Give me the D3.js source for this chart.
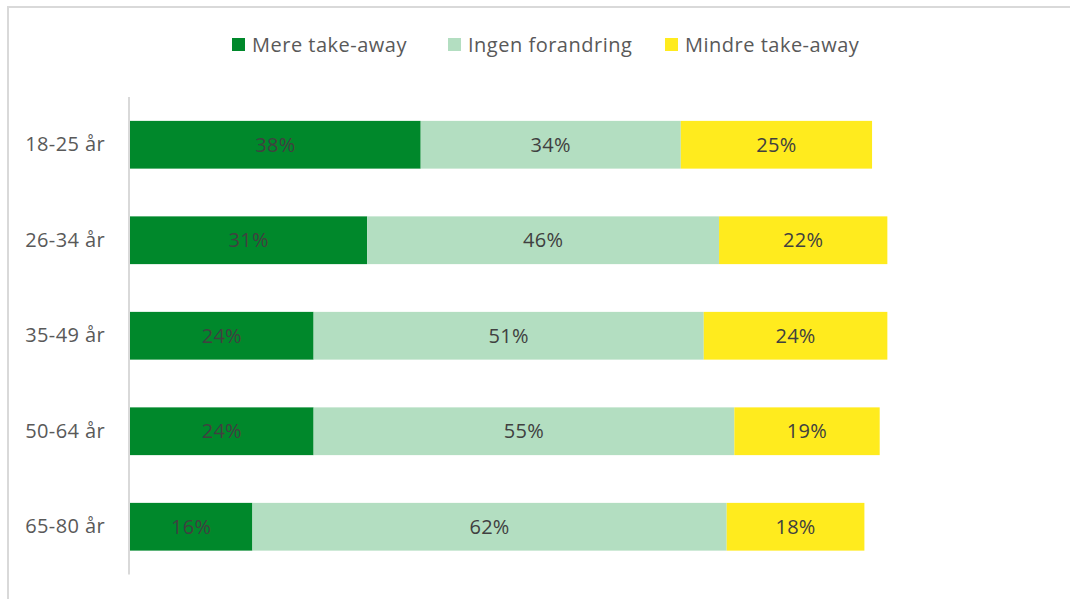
<!DOCTYPE html>
<html>
<head>
<meta charset="utf-8">
<script src="https://cdn.jsdelivr.net/npm/d3@7"></script>
<style>
  body { margin: 0; background: #fff; }
  svg { display: block; }
</style>
</head>
<body>
<script>
'use strict';

const w = 1070;
const h = 599;

const ageGroups = ['18-25 år', '26-34 år', '35-49 år', '50-64 år', '65-80 år'];
const seriesNames = ['Mere take-away', 'Ingen forandring', 'Mindre take-away'];
const mere = [38, 31, 24, 24, 16];
const ingen = [34, 46, 51, 55, 62];
const mindre = [25, 22, 24, 19, 18];
const colors = ['#00882B', '#B3DEC1', '#FFEB1E'];

const font = '"Open Sans", "Noto Sans", sans-serif';

const svg = d3.select('body').append('svg').attr('width', w).attr('height', h);

// chart area border (only top/left visible in the shot)
svg.append('rect')
  .attr('x', 8).attr('y', 7)
  .attr('width', w + 20).attr('height', h + 20)
  .attr('fill', 'none')
  .attr('stroke', '#d9d9d9')
  .attr('stroke-width', 2);

const rows = ageGroups.map((g, i) => ({ group: g, values: [mere[i], ingen[i], mindre[i]] }));

const x = d3.scaleLinear().domain([0, 100]).range([130, 895]);
const y = d3.scaleBand().domain(ageGroups).range([97, 574.5]).paddingInner(0.5).paddingOuter(0.25);

// segments
const rowG = svg.selectAll('g.row')
  .data(rows)
  .enter()
  .append('g')
  .attr('class', 'row');

rowG.each(function (d) {
  let start = 0;
  const segs = d.values.map((v, k) => {
    const s = { v, k, x0: start, x1: start + v };
    start += v;
    return s;
  });
  const g = d3.select(this);
  g.selectAll('rect')
    .data(segs)
    .enter()
    .append('rect')
    .attr('x', (s) => x(s.x0))
    .attr('y', y(d.group))
    .attr('width', (s) => x(s.x1) - x(s.x0))
    .attr('height', y.bandwidth())
    .attr('fill', (s) => colors[s.k]);
  g.selectAll('text')
    .data(segs)
    .enter()
    .append('text')
    .text((s) => s.v + '%')
    .attr('x', (s) => (x(s.x0) + x(s.x1)) / 2)
    .attr('y', y(d.group) + y.bandwidth() / 2)
    .attr('dy', '0.36em')
    .attr('text-anchor', 'middle')
    .attr('font-family', font)
    .attr('font-size', 20)
    .attr('letter-spacing', 0.3)
    .attr('fill', '#404040');
});

// category axis
const yAxis = svg.append('g')
  .attr('transform', 'translate(129,0)')
  .call(d3.axisLeft(y).tickSize(0).tickPadding(24));
yAxis.select('.domain').attr('stroke', '#d9d9d9').attr('stroke-width', 2).attr('d', 'M0,97V574.5');
yAxis.selectAll('text')
  .attr('font-family', font)
  .attr('font-size', 20)
  .attr('letter-spacing', 0.4)
  .attr('fill', '#595959');

// legend
const legendX = [232, 448, 665];
const legend = svg.selectAll('g.legend')
  .data(seriesNames)
  .enter()
  .append('g')
  .attr('class', 'legend')
  .attr('transform', (d, i) => `translate(${legendX[i]},45)`);
legend.append('rect')
  .attr('x', 0).attr('y', -7)
  .attr('width', 13).attr('height', 13)
  .attr('fill', (d, i) => colors[i]);
legend.append('text')
  .text((d) => d)
  .attr('x', 20)
  .attr('dy', '0.35em')
  .attr('font-family', font)
  .attr('font-size', 20)
  .attr('letter-spacing', 0.5)
  .attr('fill', '#595959');
</script>
</body>
</html>
